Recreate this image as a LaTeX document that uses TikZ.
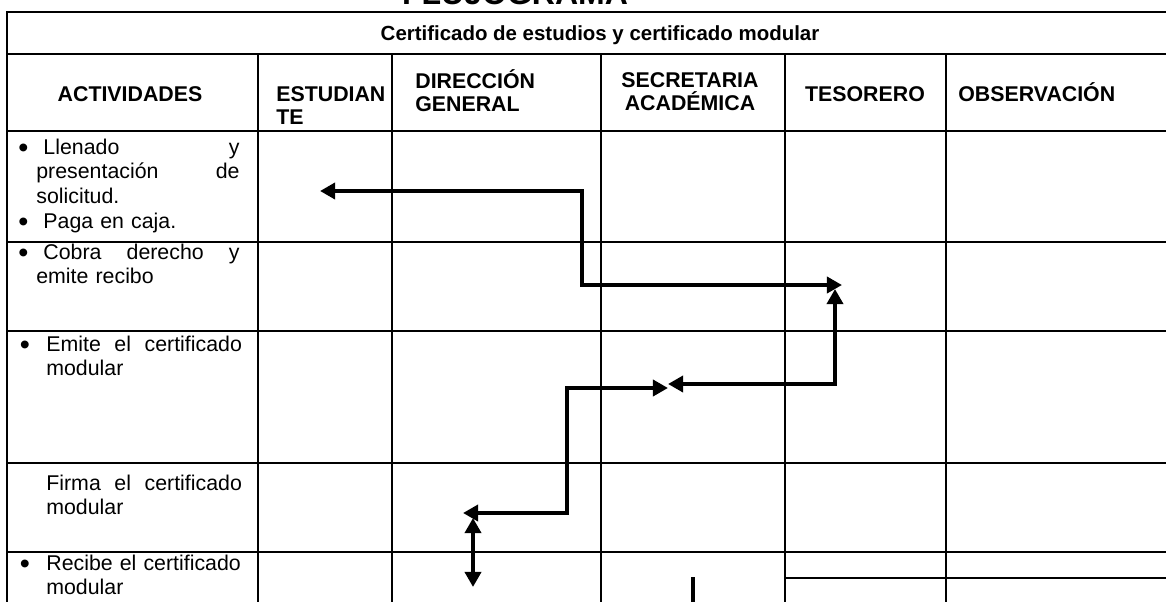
\documentclass[tikz,border=0pt]{standalone}
\usepackage{fontspec}
\setmainfont{Liberation Sans}
\usetikzlibrary{arrows.meta}

\tikzset{
  tabline/.style={line width=1.1pt},
  tabframe/.style={line width=1.6pt},
  flowline/.style={line width=2.2pt, {Triangle[length=8.5pt,width=9pt]}-{Triangle[length=8.5pt,width=9pt]}},
  headtext/.style={font=\bfseries\fontsize{12}{12.5}\selectfont, inner sep=0pt, anchor=base},
  acttext/.style={font=\fontsize{12}{14}\selectfont, inner sep=0pt, anchor=base west, text width=#1, align=left},
  acttext/.default=110pt,
}
\newcommand{\itm}[1][9.2pt]{\leavevmode\llap{\raisebox{-1.8pt}{\scalebox{1.35}{\textbullet}}\hspace{#1}}}

\begin{document}
\begin{tikzpicture}[x=0.5625pt, y=-0.5625pt]
\useasboundingbox (0,0) rectangle (1166,601);

\foreach \y in {54,131,242,331,463,552}
  \draw[tabline] (7,\y) -- (1170,\y);
\foreach \x in {258,392,601,785,946}
  \draw[tabline] (\x,54) -- (\x,605);
\draw[tabframe] (1170,12) -- (7,12) -- (7,605);
\draw[tabline] (785,578) -- (1170,578);
\draw[line width=2.2pt] (693,577) -- (693,605);

\node[font=\bfseries\fontsize{18}{18}\selectfont, inner sep=0pt, anchor=base] (flujo) at (515,4) {FLUJOGRAMA};
\node[font=\bfseries\fontsize{11.5}{12}\selectfont, inner sep=0pt, anchor=base] (proc) at (600,40) {Certificado de estudios y certificado modular};

\node[headtext] (hAct) at (130,101) {ACTIVIDADES};
\node[headtext, align=left, anchor=base west] (hEst) at (276,124) {ESTUDIAN\\TE};
\node[headtext, align=left, anchor=base west] (hDir) at (415,111) {DIRECCIÓN\\GENERAL};
\node[headtext, align=center] (hSec) at (690,110) {SECRETARIA\\ACADÉMICA};
\node[headtext] (hTes) at (865,101) {TESORERO};
\node[headtext, anchor=base west] (hObs) at (958,101) {OBSERVACIÓN};

\node[acttext=114.3pt] (r1) at (36,154) {\itm[4.4pt] Llenado\hfill y\\presentación\hfill de\\solicitud.\\\itm[4.4pt] Paga en caja.};
\node[acttext=114.3pt] (r2) at (36,259) {\itm[4.4pt] Cobra\hfill derecho\hfill y\\emite recibo};
\node[acttext] (r3) at (46,351) {\itm Emite\hfill el\hfill certificado\\modular};
\node[acttext] (r4) at (46,490) {Firma\hfill el\hfill certificado\\modular};
\node[acttext] (r5) at (46,570) {\itm Recibe el certificado\\modular};

\coordinate (a1) at (320,191);
\coordinate (a2) at (582,191);
\coordinate (a3) at (582,285);
\coordinate (a4) at (842,285);
\coordinate (b1) at (835,289);
\coordinate (b2) at (835,384);
\coordinate (b3) at (668,384);
\coordinate (c1) at (668,388);
\coordinate (c2) at (567,388);
\coordinate (c3) at (567,513);
\coordinate (c4) at (463,513);
\coordinate (d1) at (473,518);
\coordinate (d2) at (473,587);

\draw[flowline] (a1) -- (a2) -- (a3) -- (a4);
\draw[flowline] (b1) -- (b2) -- (b3);
\draw[flowline] (c1) -- (c2) -- (c3) -- (c4);
\draw[flowline] (d1) -- (d2);
\end{tikzpicture}
\end{document}
